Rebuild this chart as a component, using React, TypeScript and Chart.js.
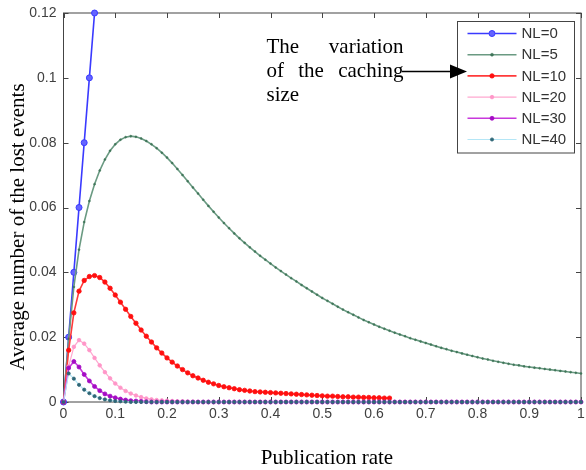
import React, { useEffect, useRef } from 'react';
import { Chart, registerables } from 'chart.js';

Chart.register(...registerables);

// Publication rate (x) sample points
const xValues = [
  0, 0.01, 0.02, 0.03, 0.04, 0.05, 0.06, 0.07, 0.08, 0.09,
  0.1, 0.11, 0.12, 0.13, 0.14, 0.15, 0.16, 0.17, 0.18, 0.19,
  0.2, 0.21, 0.22, 0.23, 0.24, 0.25, 0.26, 0.27, 0.28, 0.29,
  0.3, 0.31, 0.32, 0.33, 0.34, 0.35, 0.36, 0.37, 0.38, 0.39,
  0.4, 0.41, 0.42, 0.43, 0.44, 0.45, 0.46, 0.47, 0.48, 0.49,
  0.5, 0.51, 0.52, 0.53, 0.54, 0.55, 0.56, 0.57, 0.58, 0.59,
  0.6, 0.61, 0.62, 0.63, 0.64, 0.65, 0.66, 0.67, 0.68, 0.69,
  0.7, 0.71, 0.72, 0.73, 0.74, 0.75, 0.76, 0.77, 0.78, 0.79,
  0.8, 0.81, 0.82, 0.83, 0.84, 0.85, 0.86, 0.87, 0.88, 0.89,
  0.9, 0.91, 0.92, 0.93, 0.94, 0.95, 0.96, 0.97, 0.98, 0.99,
  1,
];

// Average number of lost events per caching size NL
const nl0 = [0, 0.02, 0.04, 0.06, 0.08, 0.1, 0.12];

const nl5 = [
  0, 0.0195, 0.0355, 0.047, 0.0555, 0.062, 0.0672, 0.0714, 0.0748, 0.0775,
  0.0795, 0.0809, 0.0817, 0.082, 0.0818, 0.0813, 0.0805, 0.0795, 0.0783, 0.0769,
  0.0754, 0.0737, 0.0719, 0.07, 0.0681, 0.0662, 0.0643, 0.0624, 0.0605, 0.0587,
  0.0569, 0.0552, 0.0536, 0.052, 0.0505, 0.0491, 0.0477, 0.0464, 0.0451, 0.0439,
  0.0427, 0.0415, 0.0404, 0.0393, 0.0382, 0.0372, 0.0361, 0.0351, 0.0341, 0.0331,
  0.0321, 0.0312, 0.0303, 0.0294, 0.0285, 0.0277, 0.0269, 0.0261, 0.0253, 0.0246,
  0.0239, 0.0232, 0.0226, 0.022, 0.0214, 0.0208, 0.0203, 0.0197, 0.0192, 0.0187,
  0.0182, 0.0177, 0.0172, 0.0167, 0.0163, 0.0158, 0.0154, 0.015, 0.0146, 0.0142,
  0.0138, 0.0134, 0.0131, 0.0127, 0.0124, 0.0121, 0.0118, 0.0115, 0.0113, 0.011,
  0.0108, 0.0106, 0.0104, 0.0102, 0.01, 0.0098, 0.0096, 0.0094, 0.0092, 0.009,
  0.0088,
];

const nl10 = [
  0, 0.016, 0.0275, 0.0342, 0.0375, 0.0387, 0.039, 0.0384, 0.037, 0.0351,
  0.033, 0.0308, 0.0286, 0.0264, 0.0243, 0.0222, 0.0203, 0.0185, 0.0167, 0.0151,
  0.0136, 0.0123, 0.0111, 0.01, 0.009, 0.0081, 0.0074, 0.0067, 0.0061, 0.0056,
  0.0051, 0.0047, 0.0044, 0.0041, 0.0038, 0.0036, 0.0034, 0.0032, 0.0031, 0.003,
  0.0029, 0.0028, 0.0027, 0.0026, 0.0025, 0.0024, 0.0023, 0.0022, 0.0021, 0.002,
  0.0019, 0.0018, 0.0018, 0.0017, 0.0016, 0.0016, 0.0015, 0.0015, 0.0014, 0.0014,
  0.0013, 0.0013, 0.0012, 0.0012,
];

const nl20 = [
  0, 0.011, 0.017, 0.0191, 0.018, 0.016, 0.0136, 0.0113, 0.0092, 0.0073,
  0.0057, 0.0044, 0.0034, 0.0026, 0.002, 0.0015, 0.0011, 0.0008, 0.0006, 0.0005,
  0.0004, 0.0003, 0.0002, 0.0002, 0.0001, 0.0001, 0, 0, 0, 0,
  0, 0, 0, 0, 0, 0, 0, 0, 0, 0,
  0, 0, 0, 0, 0, 0, 0, 0, 0, 0,
  0, 0, 0, 0, 0, 0, 0, 0, 0, 0,
  0, 0, 0, 0, 0, 0, 0, 0, 0, 0,
  0, 0, 0, 0, 0, 0, 0, 0, 0, 0,
  0, 0, 0, 0, 0, 0, 0, 0, 0, 0,
  0, 0, 0, 0, 0, 0, 0, 0, 0, 0,
  0,
];

const nl30 = [
  0, 0.0105, 0.0125, 0.0108, 0.0085, 0.0065, 0.0048, 0.0035, 0.0025, 0.0018,
  0.0013, 0.0009, 0.0006, 0.0004, 0.0003, 0.0002, 0.0001, 0, 0, 0,
  0, 0, 0, 0, 0, 0, 0, 0, 0, 0,
  0, 0, 0, 0, 0, 0, 0, 0, 0, 0,
  0, 0, 0, 0, 0, 0, 0, 0, 0, 0,
  0, 0, 0, 0, 0, 0, 0, 0, 0, 0,
  0, 0, 0, 0, 0, 0, 0, 0, 0, 0,
  0, 0, 0, 0, 0, 0, 0, 0, 0, 0,
  0, 0, 0, 0, 0, 0, 0, 0, 0, 0,
  0, 0, 0, 0, 0, 0, 0, 0, 0, 0,
  0,
];

const nl40 = [
  0, 0.0088, 0.0072, 0.0053, 0.0038, 0.0027, 0.0018, 0.0012, 0.0008, 0.0005,
  0.0003, 0.0002, 0.0001, 0, 0, 0, 0, 0, 0, 0,
  0, 0, 0, 0, 0, 0, 0, 0, 0, 0,
  0, 0, 0, 0, 0, 0, 0, 0, 0, 0,
  0, 0, 0, 0, 0, 0, 0, 0, 0, 0,
  0, 0, 0, 0, 0, 0, 0, 0, 0, 0,
  0, 0, 0, 0, 0, 0, 0, 0, 0, 0,
  0, 0, 0, 0, 0, 0, 0, 0, 0, 0,
  0, 0, 0, 0, 0, 0, 0, 0, 0, 0,
  0, 0, 0, 0, 0, 0, 0, 0, 0, 0,
  0,
];

const seriesLabels = ['NL=0', 'NL=5', 'NL=10', 'NL=20', 'NL=30', 'NL=40'];
const xTickLabels = ['0', '0.1', '0.2', '0.3', '0.4', '0.5', '0.6', '0.7', '0.8', '0.9', '1'];
const yTickLabels = ['0', '0.02', '0.04', '0.06', '0.08', '0.1', '0.12'];

const xTitle = 'Publication rate';
const yTitle = 'Average number of the lost events';
const noteLines = [['The', 'variation'], ['of', 'the', 'caching'], ['size']];

const styles = [
  { line: '#3a3aff', point: '#6565ff', pBorder: '#3a3aff', width: 1.6, radius: 3, pbw: 1 },
  { line: '#6a9a82', point: '#3f7558', pBorder: '#3f7558', width: 1.6, radius: 1, pbw: 0.5 },
  { line: '#ff3a3a', point: '#ff0f0f', pBorder: '#ff0f0f', width: 1.6, radius: 2.2, pbw: 0.8 },
  { line: '#ffa8d0', point: '#ff96c8', pBorder: '#ff96c8', width: 1.2, radius: 1.8, pbw: 0.8 },
  { line: '#c838dc', point: '#a40cc4', pBorder: '#a40cc4', width: 1.6, radius: 2, pbw: 0.8 },
  { line: '#b4e6f6', point: '#2e6676', pBorder: '#2e6676', width: 1.2, radius: 1.6, pbw: 0.8 },
];

const SERIF = '"Liberation Serif", "Times New Roman", serif';
const SANS = '"Liberation Sans", Arial, sans-serif';

const framePlugin = {
  id: 'frame',
  beforeDatasetsDraw(chart: any) {
    const { ctx, chartArea } = chart;
    const { left, right, top, bottom } = chartArea;
    const xs = chart.scales.x;
    const ys = chart.scales.y;
    ctx.save();
    ctx.strokeStyle = '#444';
    ctx.lineWidth = 1;
    ctx.strokeRect(left, top, right - left, bottom - top);
    ctx.beginPath();
    xs.ticks.forEach((t: any) => {
      const px = Math.round(xs.getPixelForValue(t.value)) + 0.5;
      ctx.moveTo(px, bottom);
      ctx.lineTo(px, bottom - 5);
      ctx.moveTo(px, top);
      ctx.lineTo(px, top + 5);
    });
    ys.ticks.forEach((t: any) => {
      const py = Math.round(ys.getPixelForValue(t.value)) + 0.5;
      ctx.moveTo(left, py);
      ctx.lineTo(left + 5, py);
      ctx.moveTo(right, py);
      ctx.lineTo(right - 5, py);
    });
    ctx.stroke();
    ctx.restore();
  },
  afterDraw(chart: any) {
    const { ctx } = chart;
    ctx.save();
    // axis titles
    ctx.fillStyle = '#000';
    ctx.font = '21px ' + SERIF;
    ctx.textAlign = 'center';
    ctx.textBaseline = 'alphabetic';
    ctx.fillText(xTitle, 327, 464);
    ctx.save();
    ctx.translate(24, 227);
    ctx.rotate(-Math.PI / 2);
    ctx.fillText(yTitle, 0, 0);
    ctx.restore();

    // legend
    const lx = 457.5, ly = 21.5, lw = 117, lh = 131.5;
    ctx.fillStyle = '#fff';
    ctx.fillRect(lx, ly, lw, lh);
    ctx.strokeStyle = '#444';
    ctx.lineWidth = 1;
    ctx.strokeRect(lx, ly, lw, lh);
    ctx.font = '15px ' + SANS;
    ctx.textAlign = 'left';
    ctx.textBaseline = 'middle';
    seriesLabels.forEach((lab, i) => {
      const st = styles[i];
      const y = 33.5 + i * 21.2;
      ctx.strokeStyle = st.line;
      ctx.lineWidth = st.width;
      ctx.beginPath();
      ctx.moveTo(467.5, y);
      ctx.lineTo(516.5, y);
      ctx.stroke();
      ctx.beginPath();
      ctx.arc(492, y, Math.max(st.radius, 1.5), 0, Math.PI * 2);
      ctx.fillStyle = st.point;
      ctx.fill();
      ctx.strokeStyle = st.pBorder;
      ctx.lineWidth = st.pbw;
      ctx.stroke();
      ctx.fillStyle = '#333';
      ctx.fillText(lab, 521.5, y + 0.5);
    });

    // annotation text (justified)
    ctx.fillStyle = '#000';
    ctx.font = '21px ' + SERIF;
    ctx.textBaseline = 'alphabetic';
    ctx.textAlign = 'left';
    const tl = 266.5, tr = 403.5;
    const baselines = [53, 77, 101];
    noteLines.forEach((words, li) => {
      const by = baselines[li];
      if (words.length === 1) {
        ctx.fillText(words[0], tl, by);
        return;
      }
      const widths = words.map((w) => ctx.measureText(w).width);
      const total = widths.reduce((a, b) => a + b, 0);
      const gap = (tr - tl - total) / (words.length - 1);
      let x = tl;
      words.forEach((w, wi) => {
        ctx.fillText(w, x, by);
        x += widths[wi] + gap;
      });
    });

    // arrow
    ctx.strokeStyle = '#000';
    ctx.lineWidth = 1.6;
    ctx.beginPath();
    ctx.moveTo(402, 71.5);
    ctx.lineTo(452, 71.5);
    ctx.stroke();
    ctx.fillStyle = '#000';
    ctx.beginPath();
    ctx.moveTo(450, 64.5);
    ctx.lineTo(467, 71.5);
    ctx.lineTo(450, 78.5);
    ctx.closePath();
    ctx.fill();
    ctx.restore();
  },
};

export default function App() {
  const ref = useRef<HTMLCanvasElement | null>(null);

  useEffect(() => {
    if (!ref.current) return;
    const all = [nl0, nl5, nl10, nl20, nl30, nl40];
    const datasets = all.map((arr, i) => {
      const st = styles[i];
      return {
        label: seriesLabels[i],
        data: arr.map((y, j) => ({ x: xValues[j], y })),
        borderColor: st.line,
        borderWidth: st.width,
        backgroundColor: st.point,
        pointBackgroundColor: st.point,
        pointBorderColor: st.pBorder,
        pointBorderWidth: st.pbw,
        pointRadius: st.radius,
        pointStyle: 'circle',
        tension: 0,
        fill: false,
        clip: false as any,
        order: all.length - 1 - i,
      };
    });
    const chart = new Chart(ref.current, {
      type: 'line',
      data: { datasets: datasets as any },
      options: {
        animation: false,
        responsive: false,
        maintainAspectRatio: false,
        layout: { padding: { top: 13, right: 1, left: 0, bottom: 0 } },
        plugins: { legend: { display: false }, tooltip: { enabled: false } },
        scales: {
          x: {
            type: 'linear',
            min: 0,
            max: 1,
            grid: { display: false, drawTicks: false },
            border: { display: false },
            ticks: {
              stepSize: 0.1,
              padding: 4,
              autoSkip: false,
              maxRotation: 0,
              color: '#404040',
              font: { family: SANS, size: 14 },
              callback: (_v: any, i: number) => xTickLabels[i],
            },
            afterFit: (s: any) => {
              s.height = 68;
              s.paddingLeft = 0;
              s.paddingRight = 0;
            },
          },
          y: {
            type: 'linear',
            min: 0,
            max: 0.12,
            grid: { display: false, drawTicks: false },
            border: { display: false },
            ticks: {
              stepSize: 0.02,
              padding: 7,
              autoSkip: false,
              color: '#404040',
              font: { family: SANS, size: 14 },
              callback: (_v: any, i: number) => yTickLabels[i],
            },
            afterFit: (s: any) => {
              s.width = 63.5;
              s.paddingTop = 0;
              s.paddingBottom = 0;
            },
          },
        },
      },
      plugins: [framePlugin],
    });
    return () => chart.destroy();
  }, []);

  return (
    <div style={{ position: 'fixed', left: 0, top: 0, width: 586, height: 470, background: '#fff' }}>
      <canvas ref={ref} width={586} height={470} style={{ width: 586, height: 470, display: 'block' }} />
    </div>
  );
}
